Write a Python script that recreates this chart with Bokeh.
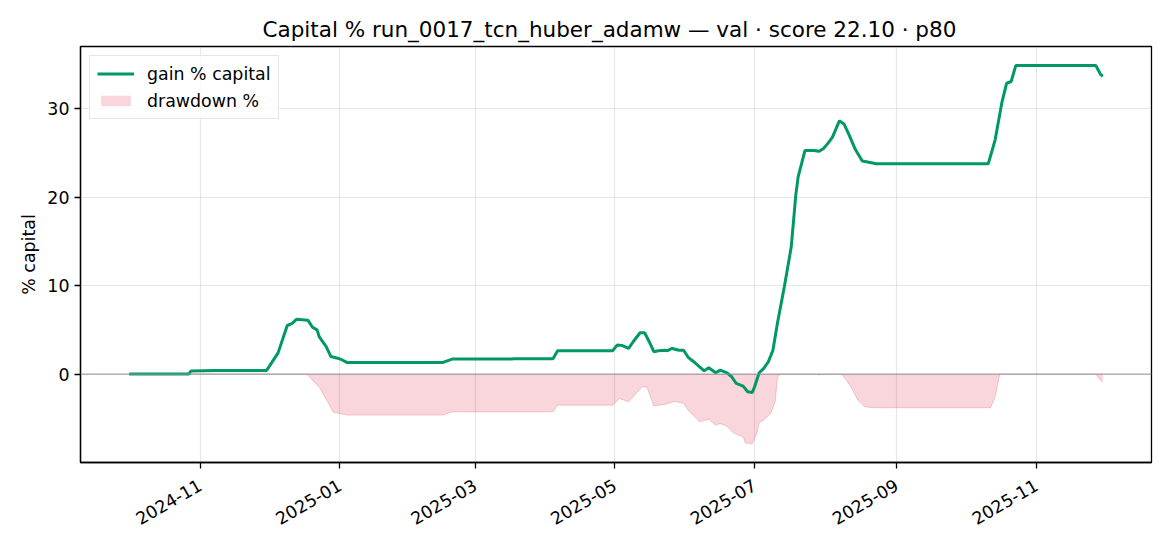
import math
import datetime as dt
import pandas as pd
from bokeh.plotting import figure
from bokeh.models import (Range1d, FixedTicker, DatetimeTickFormatter, Span,
                          Legend, LegendItem)
from bokeh.embed import file_html
from bokeh.resources import INLINE

TITLE = "Capital % run_0017_tcn_huber_adamw \u2014 val \u00b7 score 22.10 \u00b7 p80"
Y_LABEL = "% capital"
GAIN_LABEL = "gain % capital"
DD_LABEL = "drawdown %"

# gain % capital (at visible breakpoints)
gain_dates = ["2024-10-01", "2024-10-27", "2024-10-28", "2024-11-08", "2024-11-30",
              "2024-12-05", "2024-12-09", "2024-12-11", "2024-12-13", "2024-12-18",
              "2024-12-20", "2024-12-22", "2024-12-23", "2024-12-26", "2024-12-28",
              "2024-12-31", "2025-01-02", "2025-01-04", "2025-02-15", "2025-02-19",
              "2025-03-17", "2025-03-18", "2025-04-04", "2025-04-06", "2025-04-30",
              "2025-05-02", "2025-05-04", "2025-05-07", "2025-05-09", "2025-05-12",
              "2025-05-14", "2025-05-16", "2025-05-18", "2025-05-20", "2025-05-23",
              "2025-05-24", "2025-05-26", "2025-05-29", "2025-05-31", "2025-06-02",
              "2025-06-05", "2025-06-09", "2025-06-11", "2025-06-14", "2025-06-16",
              "2025-06-19", "2025-06-21", "2025-06-23", "2025-06-26", "2025-06-28",
              "2025-06-30", "2025-07-01", "2025-07-03", "2025-07-05", "2025-07-07",
              "2025-07-09", "2025-07-11", "2025-07-14", "2025-07-17", "2025-07-19",
              "2025-07-20", "2025-07-23", "2025-07-27", "2025-07-29", "2025-07-31",
              "2025-08-02", "2025-08-04", "2025-08-07", "2025-08-09", "2025-08-11",
              "2025-08-14", "2025-08-17", "2025-08-21", "2025-08-23", "2025-10-11",
              "2025-10-14", "2025-10-17", "2025-10-19", "2025-10-21", "2025-10-23",
              "2025-11-27", "2025-11-28", "2025-11-29", "2025-11-30"]
gain_vals = [0.0, 0.0, 0.36, 0.40, 0.42,
             2.4, 5.5, 5.7, 6.2, 6.1,
             5.3, 5.0, 4.2, 3.1, 2.0,
             1.8, 1.6, 1.32, 1.32, 1.70,
             1.70, 1.74, 1.74, 2.64, 2.64,
             3.28, 3.25, 2.9, 3.66, 4.68,
             4.68, 3.66, 2.53, 2.64, 2.7,
             2.65, 2.9, 2.7, 2.7, 1.9,
             1.28, 0.37, 0.71, 0.15, 0.45,
             0.15, -0.3, -1.06, -1.36, -2.0,
             -2.08, -1.43, 0.15, 0.64, 1.4,
             2.7, 5.8, 9.9, 14.4, 20.3,
             22.3, 25.3, 25.3, 25.2, 25.5,
             26.1, 26.8, 28.65, 28.3, 27.2,
             25.4, 24.1, 23.9, 23.8, 23.8,
             26.5, 30.8, 32.9, 33.1, 34.9,
             34.9, 34.4, 33.9, 33.7]

# drawdown %
dd_dates = ["2024-10-01", "2024-12-16", "2024-12-18", "2024-12-20", "2024-12-23",
            "2024-12-27", "2024-12-29", "2025-01-04", "2025-02-15", "2025-02-19",
            "2025-04-04", "2025-04-06", "2025-04-30", "2025-05-03", "2025-05-07",
            "2025-05-13", "2025-05-15", "2025-05-18", "2025-05-23", "2025-05-27",
            "2025-05-31", "2025-06-02", "2025-06-07", "2025-06-11", "2025-06-14",
            "2025-06-16", "2025-06-19", "2025-06-22", "2025-06-26", "2025-06-27",
            "2025-06-30", "2025-07-02", "2025-07-03", "2025-07-05", "2025-07-08",
            "2025-07-10", "2025-07-11", "2025-07-12", "2025-07-28", "2025-07-29",
            "2025-07-31", "2025-08-08", "2025-08-12", "2025-08-15", "2025-08-18",
            "2025-08-22", "2025-10-12", "2025-10-14", "2025-10-16", "2025-11-27",
            "2025-11-28", "2025-11-29", "2025-11-30"]
dd_vals = [0.0, 0.0, -0.1, -0.7, -1.5,
           -3.3, -4.3, -4.64, -4.64, -4.27,
           -4.27, -3.51, -3.51, -2.76, -3.13,
           -1.43, -1.5, -3.6, -3.4, -3.1,
           -3.3, -4.1, -5.4, -5.1, -5.8,
           -5.6, -5.9, -6.7, -7.1, -7.8,
           -7.86, -6.7, -5.5, -5.2, -4.45,
           -3.13, -0.4, 0.0, 0.0, -0.1,
           0.0, 0.0, -1.4, -2.9, -3.7,
           -3.8, -3.8, -2.6, 0.0, 0.0,
           -0.4, -0.7, -0.9]

x_tick_dates = ["2024-11-01", "2025-01-01", "2025-03-01", "2025-05-01",
                "2025-07-01", "2025-09-01", "2025-11-01"]
y_ticks = [0, 10, 20, 30]

FONT = "DejaVu Sans"
GREEN = "#009966"
TICK_FS = "17.4px"

gain_x = pd.to_datetime(gain_dates)
dd_x = pd.to_datetime(dd_dates)
tick_ms = [pd.Timestamp(d).value / 1e6 for d in x_tick_dates]

p = figure(width=1170, height=546, x_axis_type="datetime",
           output_backend="svg", toolbar_location=None,
           x_range=Range1d(start=dt.datetime(2024, 9, 9, 18), end=dt.datetime(2025, 12, 21, 6)),
           y_range=Range1d(-10.0, 37.06),
           min_border_left=80, min_border_right=19,
           min_border_top=46, min_border_bottom=84)

p.background_fill_color = "white"
p.border_fill_color = "white"
p.outline_line_color = "black"
p.outline_line_width = 1.3
p.outline_line_alpha = 1.0

p.title.text = TITLE
p.title.align = "left"
p.title.offset = 182
p.title.text_font = FONT
p.title.text_font_size = "21.5px"
p.title.text_font_style = "normal"
p.title.text_color = "black"
p.title.standoff = 10

p.xgrid.grid_line_color = "#b0b0b0"
p.ygrid.grid_line_color = "#b0b0b0"
p.grid.grid_line_alpha = 0.3
p.grid.grid_line_width = 1.2

p.xaxis.ticker = FixedTicker(ticks=tick_ms)
p.xaxis.formatter = DatetimeTickFormatter(
    milliseconds="%Y-%m", seconds="%Y-%m", minsec="%Y-%m", minutes="%Y-%m",
    hourmin="%Y-%m", hours="%Y-%m", days="%Y-%m", months="%Y-%m", years="%Y-%m")
p.xaxis.major_label_orientation = math.pi / 6
p.yaxis.ticker = FixedTicker(ticks=y_ticks)

for ax in p.axis:
    ax.axis_line_color = "black"
    ax.axis_line_width = 1.3
    ax.major_tick_line_color = "black"
    ax.major_tick_line_width = 1.3
    ax.major_tick_out = 6
    ax.major_tick_in = 0
    ax.minor_tick_out = 0
    ax.minor_tick_in = 0
    ax.major_label_text_font = FONT
    ax.major_label_text_font_size = TICK_FS
    ax.major_label_text_color = "black"
    ax.major_label_standoff = 5

p.xaxis.major_label_standoff = 15

p.yaxis.axis_label = Y_LABEL
p.yaxis.axis_label_text_font = FONT
p.yaxis.axis_label_text_font_size = TICK_FS
p.yaxis.axis_label_text_font_style = "normal"
p.yaxis.axis_label_text_color = "black"
p.yaxis.axis_label_standoff = 5

dd_area = p.varea(x=dd_x, y1=dd_vals, y2=0, fill_color="crimson", fill_alpha=0.18)
p.line(dd_x, dd_vals, line_color="crimson", line_alpha=0.2, line_width=1)

zero = Span(location=0, dimension="width", line_color="#8c90a4",
            line_width=1.3, line_alpha=0.8)
p.add_layout(zero)

gain_line = p.line(gain_x, gain_vals, line_color=GREEN, line_width=3)

legend = Legend(items=[LegendItem(label=GAIN_LABEL, renderers=[gain_line]),
                       LegendItem(label=DD_LABEL, renderers=[dd_area])],
                location="top_left")
legend.margin = 9
legend.padding = 7
legend.spacing = 6
legend.glyph_width = 37
legend.glyph_height = 13
legend.label_height = 21
legend.label_standoff = 13
legend.label_text_font = FONT
legend.label_text_font_size = TICK_FS
legend.label_text_color = "black"
legend.border_line_color = "#cccccc"
legend.border_line_width = 1.2
legend.background_fill_color = "white"
legend.background_fill_alpha = 0.8
p.add_layout(legend)

open("out.html", "w").write(file_html(p, INLINE))
